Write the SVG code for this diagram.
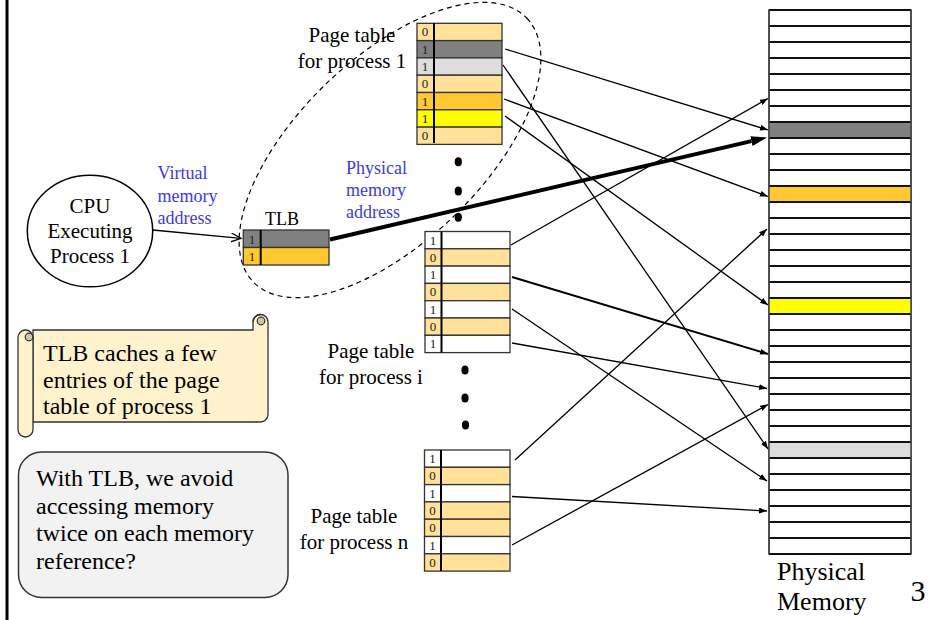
<svg xmlns="http://www.w3.org/2000/svg" width="951" height="620" viewBox="0 0 951 620">
  <style>
    text { font-family: "Liberation Serif", "Times New Roman", serif; fill: #000; }
    .lbl { font-size: 21px; }
    .blue { font-size: 18px; fill: #3C3CDC; }
    .note { font-size: 24px; }
    .bit { font-size: 13px; text-anchor: middle; fill: #222; }
    .cell { stroke: #333; stroke-width: 1.3; }
    .div { stroke: #000; stroke-width: 2; }
    .z { fill: #FFE199; }
    .w { fill: #FFFFFF; }
    .g { fill: #808080; }
    .lg { fill: #DDDDDD; }
    .o { fill: #FFC830; }
    .y { fill: #FFFF00; }
    .conn { stroke: #000; stroke-width: 1.3; fill: none; marker-end: url(#head); }
    .dot { fill: #000; }
  </style>
  <defs>
    <marker id="head" markerUnits="userSpaceOnUse" markerWidth="9" markerHeight="7" refX="8" refY="3" orient="auto">
      <path d="M0,0 L8,3 L0,6 Z" fill="#000"/>
    </marker>
    <marker id="bighead" markerUnits="userSpaceOnUse" markerWidth="17" markerHeight="11" refX="0" refY="5" orient="auto">
      <path d="M0,0 L16,5 L0,10 Z" fill="#000"/>
    </marker>
    <marker id="openhead" markerUnits="userSpaceOnUse" markerWidth="12" markerHeight="10" refX="10" refY="4.5" orient="auto">
      <path d="M0,0 L10,4.5 L0,9" fill="none" stroke="#000" stroke-width="1.3"/>
    </marker>
  </defs>

  <rect x="0" y="0" width="951" height="620" fill="#FFFFFF"/>
  <!-- slide edge -->
  <line x1="7" y1="0" x2="7" y2="620" stroke="#000" stroke-width="3"/>

  <!-- dashed boundary around TLB and page table of process 1 -->
  <ellipse cx="390" cy="150" rx="190" ry="92" transform="rotate(-44 390 150)" fill="none" stroke="#000" stroke-width="1.2" stroke-dasharray="5,4"/>

  <!-- CPU -->
  <g id="cpu">
    <ellipse cx="90" cy="231" rx="62.7" ry="55.8" fill="#FFFFFF" stroke="#000" stroke-width="1.5"/>
    <text class="lbl" x="90" y="213" text-anchor="middle">CPU</text>
    <text class="lbl" x="90" y="238" text-anchor="middle">Executing</text>
    <text class="lbl" x="90" y="263" text-anchor="middle">Process 1</text>
  </g>

  <g id="label-virtual">
    <text class="blue" x="157.5" y="179">Virtual</text>
    <text class="blue" x="157.5" y="202">memory</text>
    <text class="blue" x="157.5" y="223.5">address</text>
  </g>

  <g id="label-physical">
    <text class="blue" x="346" y="174">Physical</text>
    <text class="blue" x="346" y="196">memory</text>
    <text class="blue" x="346" y="217.5">address</text>
  </g>

  <!-- TLB -->
  <g id="tlb">
    <text x="282" y="225" text-anchor="middle" style="font-size:18px">TLB</text>
    <rect class="cell g" x="243.3" y="230" width="85.7" height="17.5"/>
    <rect class="cell o" x="243.3" y="247.5" width="85.7" height="17.5"/>
    <line class="div" x1="260.7" y1="230" x2="260.7" y2="265"/>
    <text class="bit" x="252" y="243.5">1</text>
    <text class="bit" x="252" y="261">1</text>
  </g>

  <!-- page table of process 1 -->
  <g id="pt1">
    <text class="lbl" x="352" y="41.7" text-anchor="middle">Page table</text>
    <text class="lbl" x="352" y="67.7" text-anchor="middle">for process 1</text>
    <rect class="cell z" x="417" y="23.3" width="85" height="17.3"/>
    <rect class="cell g" x="417" y="40.6" width="85" height="17.3"/>
    <rect class="cell lg" x="417" y="57.9" width="85" height="17.3"/>
    <rect class="cell z" x="417" y="75.2" width="85" height="17.3"/>
    <rect class="cell o" x="417" y="92.5" width="85" height="17.3"/>
    <rect class="cell y" x="417" y="109.8" width="85" height="17.3"/>
    <rect class="cell z" x="417" y="127.1" width="85" height="17.3"/>
    <line class="div" x1="434" y1="23.3" x2="434" y2="143"/>
    <text class="bit" x="425" y="36.3">0</text>
    <text class="bit" x="425" y="53.6">1</text>
    <text class="bit" x="425" y="70.9">1</text>
    <text class="bit" x="425" y="88.2">0</text>
    <text class="bit" x="425" y="105.5">1</text>
    <text class="bit" x="425" y="122.8">1</text>
    <text class="bit" x="425" y="140.1">0</text>
  </g>

  <!-- page table of process i -->
  <g id="pti">
    <text class="lbl" x="371" y="357.5" text-anchor="middle">Page table</text>
    <text class="lbl" x="371" y="383.5" text-anchor="middle">for process i</text>
    <rect class="cell w" x="425" y="231.5" width="85" height="17.3"/>
    <rect class="cell z" x="425" y="248.8" width="85" height="17.3"/>
    <rect class="cell w" x="425" y="266.1" width="85" height="17.3"/>
    <rect class="cell z" x="425" y="283.4" width="85" height="17.3"/>
    <rect class="cell w" x="425" y="300.7" width="85" height="17.3"/>
    <rect class="cell z" x="425" y="318" width="85" height="17.3"/>
    <rect class="cell w" x="425" y="335.3" width="85" height="17.3"/>
    <line class="div" x1="441.5" y1="231.5" x2="441.5" y2="352.6"/>
    <text class="bit" x="433" y="244.5">1</text>
    <text class="bit" x="433" y="261.8">0</text>
    <text class="bit" x="433" y="279.1">1</text>
    <text class="bit" x="433" y="296.4">0</text>
    <text class="bit" x="433" y="313.7">1</text>
    <text class="bit" x="433" y="331">0</text>
    <text class="bit" x="433" y="348.3">1</text>
  </g>

  <!-- page table of process n -->
  <g id="ptn">
    <text class="lbl" x="354" y="523" text-anchor="middle">Page table</text>
    <text class="lbl" x="354" y="549" text-anchor="middle">for process n</text>
    <rect class="cell w" x="424.5" y="450" width="85.5" height="17.3"/>
    <rect class="cell z" x="424.5" y="467.3" width="85.5" height="17.3"/>
    <rect class="cell w" x="424.5" y="484.6" width="85.5" height="17.3"/>
    <rect class="cell z" x="424.5" y="501.9" width="85.5" height="17.3"/>
    <rect class="cell z" x="424.5" y="519.2" width="85.5" height="17.3"/>
    <rect class="cell w" x="424.5" y="536.5" width="85.5" height="17.3"/>
    <rect class="cell z" x="424.5" y="553.8" width="85.5" height="17.3"/>
    <line class="div" x1="441" y1="450" x2="441" y2="571.1"/>
    <text class="bit" x="432.5" y="463">1</text>
    <text class="bit" x="432.5" y="480.3">0</text>
    <text class="bit" x="432.5" y="497.6">1</text>
    <text class="bit" x="432.5" y="514.9">0</text>
    <text class="bit" x="432.5" y="532.2">0</text>
    <text class="bit" x="432.5" y="549.5">1</text>
    <text class="bit" x="432.5" y="566.8">0</text>
  </g>

  <!-- ellipsis dots between the page tables -->
  <g id="dots">
    <ellipse class="dot" cx="458.3" cy="161.7" rx="3.6" ry="4.5"/>
    <ellipse class="dot" cx="458.3" cy="191" rx="3.6" ry="4.5"/>
    <ellipse class="dot" cx="458.3" cy="217.3" rx="3.6" ry="4.5"/>
    <ellipse class="dot" cx="465" cy="370" rx="3.6" ry="4.5"/>
    <ellipse class="dot" cx="465" cy="398" rx="3.6" ry="4.5"/>
    <ellipse class="dot" cx="465.5" cy="425" rx="3.6" ry="4.5"/>
  </g>

  <!-- physical memory frames -->
  <g id="memory">
    <rect x="769" y="10" width="142" height="544" fill="#FFFFFF" stroke="#444" stroke-width="1.5"/>
    <rect class="g" x="769" y="122" width="142" height="16"/>
    <rect class="o" x="769" y="186" width="142" height="16"/>
    <rect class="y" x="769" y="298" width="142" height="16"/>
    <rect class="lg" x="769" y="442" width="142" height="16"/>
    <path stroke="#111" stroke-width="1.8" fill="none" d="M769,10H911 M769,26H911 M769,42H911 M769,58H911 M769,74H911 M769,90H911 M769,106H911 M769,122H911 M769,138H911 M769,154H911 M769,170H911 M769,186H911 M769,202H911 M769,218H911 M769,234H911 M769,250H911 M769,266H911 M769,282H911 M769,298H911 M769,314H911 M769,330H911 M769,346H911 M769,362H911 M769,378H911 M769,394H911 M769,410H911 M769,426H911 M769,442H911 M769,458H911 M769,474H911 M769,490H911 M769,506H911 M769,522H911 M769,538H911 M769,554H911"/>
    <path stroke="#444" stroke-width="1.5" fill="none" d="M769,10V554 M911,10V554"/>
    <text x="777" y="580" style="font-size:26px">Physical</text>
    <text x="777" y="610" style="font-size:26px">Memory</text>
  </g>

  <!-- connectors -->
  <g id="connectors">
    <line x1="152.7" y1="230" x2="241" y2="238.3" stroke="#000" stroke-width="1.3" marker-end="url(#openhead)"/>
    <line x1="330" y1="239.5" x2="751.4" y2="141.1" stroke="#000" stroke-width="4" marker-end="url(#bighead)"/>
    <line class="conn" x1="505" y1="49" x2="768" y2="130"/>
    <line class="conn" x1="503" y1="65" x2="768" y2="449"/>
    <line class="conn" x1="504" y1="99" x2="768" y2="196.5"/>
    <line class="conn" x1="505" y1="116" x2="768" y2="305"/>
    <line class="conn" x1="511" y1="245" x2="768" y2="98.5"/>
    <line class="conn" x1="512" y1="277" x2="768" y2="354" style="stroke-width:2"/>
    <line class="conn" x1="512" y1="309" x2="767" y2="481"/>
    <line class="conn" x1="512" y1="343" x2="767" y2="388.5"/>
    <line class="conn" x1="515" y1="460" x2="767" y2="229"/>
    <line class="conn" x1="512" y1="496.5" x2="767" y2="511"/>
    <line class="conn" x1="512" y1="545" x2="768" y2="404.5"/>
  </g>

  <!-- scroll note -->
  <g id="note-scroll">
    <path d="M33,330 H253 V322 A7.5,7.5 0 0 1 268,322 V414.5 A7.5,7.5 0 0 1 260.5,422 H33 Z" fill="#FFF2CC" stroke="#333" stroke-width="1.3"/>
    <path d="M253,322 A7.5,7.5 0 0 1 260.5,314.5" fill="none" stroke="#333" stroke-width="1.3"/>
    <circle cx="261" cy="321" r="3.8" fill="#CFC5A9" stroke="#333" stroke-width="1.2"/>
    <path d="M18,337.5 A7.5,7.5 0 0 1 33,337.5 V429.5 A7.5,7.5 0 0 1 18,429.5 Z" fill="#FFF2CC" stroke="#333" stroke-width="1.3"/>
    <circle cx="29" cy="337" r="3.8" fill="#CFC5A9" stroke="#333" stroke-width="1.2"/>
    <text class="note" x="43" y="360.7">TLB caches a few</text>
    <text class="note" x="43" y="387.5">entries of the page</text>
    <text class="note" x="43" y="414.3">table of process 1</text>
  </g>

  <!-- question box -->
  <g id="note-question">
    <rect x="18.5" y="452" width="269.5" height="145.5" rx="23" ry="23" fill="#F2F2F2" stroke="#333" stroke-width="1.5"/>
    <text class="note" x="36" y="486">With TLB, we avoid</text>
    <text class="note" x="36" y="513.7">accessing memory</text>
    <text class="note" x="36" y="541.3">twice on each memory</text>
    <text class="note" x="36" y="569">reference?</text>
  </g>

  <text x="918" y="601" text-anchor="middle" style="font-size:30px">3</text>
</svg>
